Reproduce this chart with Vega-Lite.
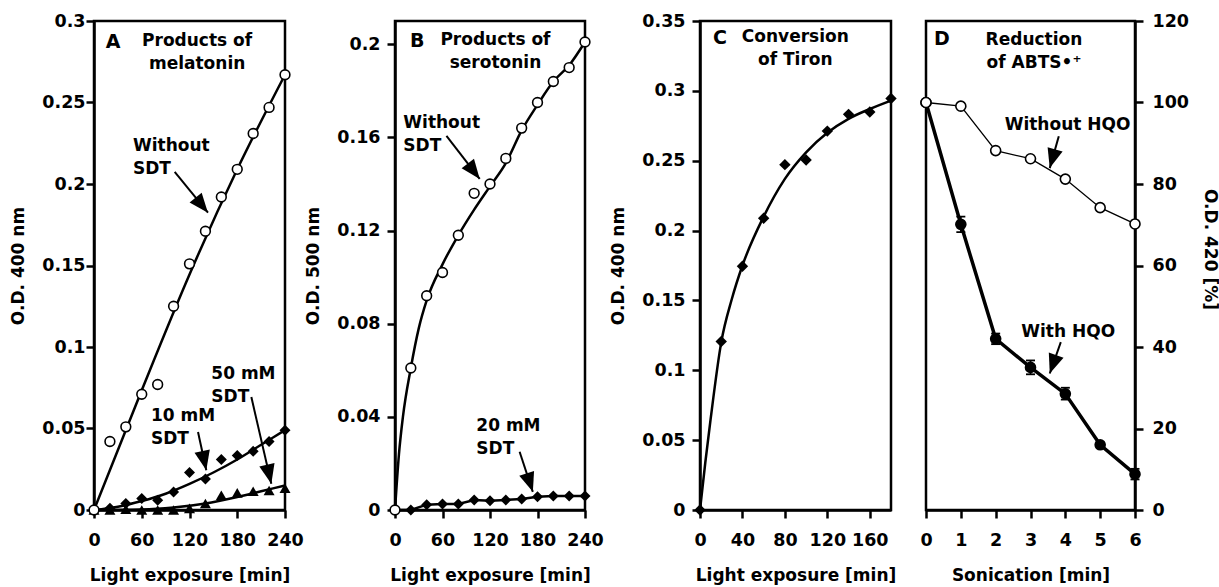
{
  "$schema": "https://vega.github.io/schema/vega-lite/v6.json",
  "background": "white",
  "padding": {"left": 8, "top": 10, "right": 0, "bottom": 0},
  "spacing": 0,
  "bounds": "flush",
  "config": {
    "font": "DejaVu Sans",
    "view": {"stroke": "black", "strokeWidth": 2.5},
    "axis": {"grid": false, "domainColor": "black", "domainWidth": 2.5, "tickColor": "black", "tickWidth": 2.5, "tickSize": 8,
      "labelFont": "DejaVu Sans", "labelFontSize": 17.5, "labelFontWeight": "bold", "labelColor": "black", "labelFlush": false, "labelOverlap": false,
      "titleFont": "DejaVu Sans", "titleFontSize": 17, "titleFontWeight": "bold", "titleColor": "black"},
    "axisX": {"labelPadding": 13, "titlePadding": 19},
    "axisY": {"labelPadding": 7, "titlePadding": 14},
    "text": {"font": "DejaVu Sans", "fontWeight": "bold", "fontSize": 17, "color": "black"}
  },
  "datasets": {
    "aPts": [
      {"series": "w", "t": 0, "v": 0}, {"series": "w", "t": 20, "v": 0.042}, {"series": "w", "t": 40, "v": 0.051}, {"series": "w", "t": 60, "v": 0.071},
      {"series": "w", "t": 80, "v": 0.077}, {"series": "w", "t": 100, "v": 0.125}, {"series": "w", "t": 120, "v": 0.151}, {"series": "w", "t": 140, "v": 0.171},
      {"series": "w", "t": 160, "v": 0.192}, {"series": "w", "t": 180, "v": 0.209}, {"series": "w", "t": 200, "v": 0.231}, {"series": "w", "t": 220, "v": 0.247},
      {"series": "w", "t": 240, "v": 0.267},
      {"series": "s10", "t": 0, "v": 0}, {"series": "s10", "t": 20, "v": 0.001}, {"series": "s10", "t": 40, "v": 0.004}, {"series": "s10", "t": 60, "v": 0.007},
      {"series": "s10", "t": 80, "v": 0.006}, {"series": "s10", "t": 100, "v": 0.011}, {"series": "s10", "t": 120, "v": 0.023}, {"series": "s10", "t": 140, "v": 0.019},
      {"series": "s10", "t": 160, "v": 0.031}, {"series": "s10", "t": 180, "v": 0.0335}, {"series": "s10", "t": 200, "v": 0.036}, {"series": "s10", "t": 220, "v": 0.042},
      {"series": "s10", "t": 240, "v": 0.049},
      {"series": "s50", "t": 0, "v": 0}, {"series": "s50", "t": 20, "v": 0}, {"series": "s50", "t": 40, "v": 0.0005}, {"series": "s50", "t": 60, "v": 0},
      {"series": "s50", "t": 80, "v": 0}, {"series": "s50", "t": 100, "v": 0}, {"series": "s50", "t": 120, "v": 0.001}, {"series": "s50", "t": 140, "v": 0.004},
      {"series": "s50", "t": 160, "v": 0.009}, {"series": "s50", "t": 180, "v": 0.0105}, {"series": "s50", "t": 200, "v": 0.0115}, {"series": "s50", "t": 220, "v": 0.012},
      {"series": "s50", "t": 240, "v": 0.0133}
    ],
    "aFit": [
      {"series": "w", "t": 0, "v": 0}, {"series": "w", "t": 60, "v": 0.0735}, {"series": "w", "t": 120, "v": 0.1445}, {"series": "w", "t": 180, "v": 0.209}, {"series": "w", "t": 240, "v": 0.267},
      {"series": "s10", "t": 0, "v": 0}, {"series": "s10", "t": 30, "v": 0.002}, {"series": "s10", "t": 60, "v": 0.0055}, {"series": "s10", "t": 90, "v": 0.01},
      {"series": "s10", "t": 120, "v": 0.016}, {"series": "s10", "t": 150, "v": 0.023}, {"series": "s10", "t": 180, "v": 0.031}, {"series": "s10", "t": 210, "v": 0.04}, {"series": "s10", "t": 240, "v": 0.049},
      {"series": "s50", "t": 0, "v": 0}, {"series": "s50", "t": 60, "v": 0.0003}, {"series": "s50", "t": 100, "v": 0.0015}, {"series": "s50", "t": 140, "v": 0.004},
      {"series": "s50", "t": 180, "v": 0.008}, {"series": "s50", "t": 210, "v": 0.0115}, {"series": "s50", "t": 240, "v": 0.015}
    ],
    "bPts": [
      {"series": "w", "t": 0, "v": 0}, {"series": "w", "t": 20, "v": 0.061}, {"series": "w", "t": 40, "v": 0.092}, {"series": "w", "t": 60, "v": 0.102},
      {"series": "w", "t": 80, "v": 0.118}, {"series": "w", "t": 100, "v": 0.136}, {"series": "w", "t": 120, "v": 0.14}, {"series": "w", "t": 140, "v": 0.151},
      {"series": "w", "t": 160, "v": 0.164}, {"series": "w", "t": 180, "v": 0.175}, {"series": "w", "t": 200, "v": 0.184}, {"series": "w", "t": 220, "v": 0.19},
      {"series": "w", "t": 240, "v": 0.201},
      {"series": "s20", "t": 0, "v": 0}, {"series": "s20", "t": 20, "v": 0}, {"series": "s20", "t": 40, "v": 0.0023}, {"series": "s20", "t": 60, "v": 0.0026},
      {"series": "s20", "t": 80, "v": 0.0026}, {"series": "s20", "t": 100, "v": 0.0043}, {"series": "s20", "t": 120, "v": 0.004}, {"series": "s20", "t": 140, "v": 0.0043},
      {"series": "s20", "t": 160, "v": 0.0047}, {"series": "s20", "t": 180, "v": 0.0057}, {"series": "s20", "t": 200, "v": 0.006}, {"series": "s20", "t": 220, "v": 0.006},
      {"series": "s20", "t": 240, "v": 0.006}
    ],
    "bFit": [
      {"t": 0, "v": 0}, {"t": 5, "v": 0.024}, {"t": 10, "v": 0.04}, {"t": 20, "v": 0.061}, {"t": 30, "v": 0.078}, {"t": 40, "v": 0.09},
      {"t": 60, "v": 0.1055}, {"t": 80, "v": 0.118}, {"t": 100, "v": 0.129}, {"t": 120, "v": 0.139}, {"t": 140, "v": 0.149}, {"t": 160, "v": 0.163},
      {"t": 180, "v": 0.174}, {"t": 200, "v": 0.184}, {"t": 220, "v": 0.191}, {"t": 240, "v": 0.201}
    ],
    "cPts": [
      {"t": 0, "v": 0}, {"t": 20, "v": 0.1206}, {"t": 40, "v": 0.1745}, {"t": 60, "v": 0.2088}, {"t": 80, "v": 0.2472},
      {"t": 100, "v": 0.2505}, {"t": 120, "v": 0.2712}, {"t": 140, "v": 0.2832}, {"t": 160, "v": 0.2849}, {"t": 180, "v": 0.2945}
    ],
    "cFit": [
      {"t": 0, "v": 0}, {"t": 5, "v": 0.034}, {"t": 10, "v": 0.065}, {"t": 20, "v": 0.12}, {"t": 30, "v": 0.151}, {"t": 40, "v": 0.175},
      {"t": 60, "v": 0.21}, {"t": 80, "v": 0.237}, {"t": 100, "v": 0.256}, {"t": 120, "v": 0.27}, {"t": 140, "v": 0.28}, {"t": 160, "v": 0.287}, {"t": 180, "v": 0.293}
    ],
    "dPts": [
      {"series": "without", "t": 0, "v": 100}, {"series": "without", "t": 1, "v": 99.1}, {"series": "without", "t": 2, "v": 88.2}, {"series": "without", "t": 3, "v": 86.2},
      {"series": "without", "t": 4, "v": 81.2}, {"series": "without", "t": 5, "v": 74.2}, {"series": "without", "t": 6, "v": 70.2},
      {"series": "with", "t": 0, "v": 100, "lo": 100, "hi": 100}, {"series": "with", "t": 1, "v": 70.1, "lo": 68.2, "hi": 72.0},
      {"series": "with", "t": 2, "v": 42.0, "lo": 40.7, "hi": 43.3}, {"series": "with", "t": 3, "v": 35.0, "lo": 33.3, "hi": 36.7},
      {"series": "with", "t": 4, "v": 28.5, "lo": 27.1, "hi": 30.0}, {"series": "with", "t": 5, "v": 16.0, "lo": 15.4, "hi": 16.6},
      {"series": "with", "t": 6, "v": 8.8, "lo": 7.5, "hi": 10.1}
    ],
    "notes": [
      {"panel": "A", "kind": "letter", "t": 23.9, "v": 0.2928, "text": "A"},
      {"panel": "A", "kind": "head", "t": 129.6, "v": 0.2928, "text": "Products of\nmelatonin"},
      {"panel": "A", "kind": "left", "t": 49, "v": 0.2284, "text": "Without\nSDT"},
      {"panel": "A", "kind": "left", "t": 71.6, "v": 0.0628, "text": "10 mM\nSDT"},
      {"panel": "A", "kind": "left", "t": 147.4, "v": 0.0883, "text": "50 mM\nSDT"},
      {"panel": "B", "kind": "letter", "t": 28, "v": 0.2054, "text": "B"},
      {"panel": "B", "kind": "head", "t": 126.9, "v": 0.2054, "text": "Products of\nserotonin"},
      {"panel": "B", "kind": "left", "t": 10.5, "v": 0.1697, "text": "Without\nSDT"},
      {"panel": "B", "kind": "left", "t": 102.7, "v": 0.0397, "text": "20 mM\nSDT"},
      {"panel": "C", "kind": "letter", "t": 18.8, "v": 0.3443, "text": "C"},
      {"panel": "C", "kind": "head", "t": 89.8, "v": 0.3443, "text": "Conversion\nof Tiron"},
      {"panel": "D", "kind": "letter", "t": 0.457, "v": 117.8, "text": "D"},
      {"panel": "D", "kind": "head", "t": 3.1, "v": 117.4, "text": "Reduction\nof ABTS•⁺"},
      {"panel": "D", "kind": "left", "t": 2.258, "v": 96.5, "text": "Without HQO"},
      {"panel": "D", "kind": "left", "t": 2.735, "v": 45.6, "text": "With HQO"}
    ],
    "arrows": [
      {"panel": "A", "id": "a1", "t": 143.2, "v": 0.1824, "t0": 101.4, "v0": 0.2074},
      {"panel": "A", "id": "a2", "t": 141.1, "v": 0.0244, "t0": 130.7, "v0": 0.0479},
      {"panel": "A", "id": "a3", "t": 222.8, "v": 0.0161, "t0": 197.7, "v0": 0.0693},
      {"panel": "B", "id": "b1", "t": 107, "v": 0.1422, "t0": 65, "v0": 0.1607},
      {"panel": "B", "id": "b2", "t": 174.1, "v": 0.0078, "t0": 157.4, "v0": 0.025},
      {"panel": "D", "id": "d1", "t": 3.553, "v": 83.9, "t0": 3.812, "v0": 91.7},
      {"panel": "D", "id": "d2", "t": 3.553, "v": 33.5, "t0": 3.87, "v0": 41.2}
    ]
  },
  "hconcat": [
    {
      "width": 191, "height": 489,
      "encoding": {
        "x": {"field": "t", "type": "quantitative", "scale": {"domain": [0, 240], "nice": false, "zero": false}, "axis": {"values": [0, 60, 120, 180, 240], "title": "Light exposure [min]"}},
        "y": {"field": "v", "type": "quantitative", "scale": {"domain": [0, 0.3], "nice": false}, "axis": {"values": [0, 0.05, 0.1, 0.15, 0.2, 0.25, 0.3], "format": "~g", "title": "O.D. 400 nm", "labelPadding": 1}}
      },
      "layer": [
        {"data": {"name": "aFit"}, "mark": {"type": "line", "interpolate": "monotone", "color": "black", "strokeWidth": 2.5}, "encoding": {"detail": {"field": "series", "type": "nominal"}}},
        {"data": {"name": "arrows"}, "transform": [{"filter": "datum.panel == 'A'"}], "mark": {"type": "rule", "color": "black", "strokeWidth": 2}, "encoding": {"x2": {"field": "t0"}, "y2": {"field": "v0"}}},
        {"data": {"name": "arrows"}, "transform": [{"filter": "datum.id == 'a1'"}], "mark": {"type": "point", "shape": "M0,0L-0.8,2L0.8,2Z", "filled": true, "color": "black", "opacity": 1, "size": 380, "angle": 140.7}},
        {"data": {"name": "arrows"}, "transform": [{"filter": "datum.id == 'a2'"}], "mark": {"type": "point", "shape": "M0,0L-0.8,2L0.8,2Z", "filled": true, "color": "black", "opacity": 1, "size": 380, "angle": 167.8}},
        {"data": {"name": "arrows"}, "transform": [{"filter": "datum.id == 'a3'"}], "mark": {"type": "point", "shape": "M0,0L-0.8,2L0.8,2Z", "filled": true, "color": "black", "opacity": 1, "size": 380, "angle": 167}},
        {"data": {"name": "aPts"}, "transform": [{"filter": "datum.series == 's50'"}], "mark": {"type": "point", "shape": "triangle-up", "filled": true, "color": "black", "opacity": 1, "size": 121}},
        {"data": {"name": "aPts"}, "transform": [{"filter": "datum.series == 's10'"}], "mark": {"type": "point", "shape": "diamond", "filled": true, "color": "black", "opacity": 1, "size": 121}},
        {"data": {"name": "aPts"}, "transform": [{"filter": "datum.series == 'w'"}], "mark": {"type": "point", "shape": "circle", "filled": true, "fill": "white", "stroke": "black", "strokeWidth": 1.6, "opacity": 1, "size": 95}},
        {"data": {"name": "notes"}, "transform": [{"filter": "datum.panel == 'A' && datum.kind == 'letter'"}], "mark": {"type": "text", "align": "center", "baseline": "top", "fontSize": 19}, "encoding": {"text": {"field": "text"}}},
        {"data": {"name": "notes"}, "transform": [{"filter": "datum.panel == 'A' && datum.kind == 'head'"}], "mark": {"type": "text", "align": "center", "baseline": "top", "lineBreak": "\n", "lineHeight": 23}, "encoding": {"text": {"field": "text"}}},
        {"data": {"name": "notes"}, "transform": [{"filter": "datum.panel == 'A' && datum.kind == 'left'"}], "mark": {"type": "text", "align": "left", "baseline": "top", "lineBreak": "\n", "lineHeight": 23}, "encoding": {"text": {"field": "text"}}}
      ]
    },
    {"width": 110, "height": 489, "data": {"values": []}, "mark": "point", "view": {"stroke": null}},
    {
      "width": 190, "height": 489,
      "encoding": {
        "x": {"field": "t", "type": "quantitative", "scale": {"domain": [0, 240], "nice": false, "zero": false}, "axis": {"values": [0, 60, 120, 180, 240], "title": "Light exposure [min]"}},
        "y": {"field": "v", "type": "quantitative", "scale": {"domain": [0, 0.21], "nice": false}, "axis": {"values": [0, 0.04, 0.08, 0.12, 0.16, 0.2], "format": "~g", "title": "O.D. 500 nm"}}
      },
      "layer": [
        {"data": {"name": "bFit"}, "mark": {"type": "line", "interpolate": "monotone", "color": "black", "strokeWidth": 2.5}},
        {"data": {"name": "bPts"}, "transform": [{"filter": "datum.series == 's20'"}], "mark": {"type": "line", "color": "black", "strokeWidth": 2.5}},
        {"data": {"name": "arrows"}, "transform": [{"filter": "datum.panel == 'B'"}], "mark": {"type": "rule", "color": "black", "strokeWidth": 2}, "encoding": {"x2": {"field": "t0"}, "y2": {"field": "v0"}}},
        {"data": {"name": "arrows"}, "transform": [{"filter": "datum.id == 'b1'"}], "mark": {"type": "point", "shape": "M0,0L-0.8,2L0.8,2Z", "filled": true, "color": "black", "opacity": 1, "size": 380, "angle": 142.4}},
        {"data": {"name": "arrows"}, "transform": [{"filter": "datum.id == 'b2'"}], "mark": {"type": "point", "shape": "M0,0L-0.8,2L0.8,2Z", "filled": true, "color": "black", "opacity": 1, "size": 380, "angle": 161.6}},
        {"data": {"name": "bPts"}, "transform": [{"filter": "datum.series == 's20'"}], "mark": {"type": "point", "shape": "diamond", "filled": true, "color": "black", "opacity": 1, "size": 121}},
        {"data": {"name": "bPts"}, "transform": [{"filter": "datum.series == 'w'"}], "mark": {"type": "point", "shape": "circle", "filled": true, "fill": "white", "stroke": "black", "strokeWidth": 1.6, "opacity": 1, "size": 95}},
        {"data": {"name": "notes"}, "transform": [{"filter": "datum.panel == 'B' && datum.kind == 'letter'"}], "mark": {"type": "text", "align": "center", "baseline": "top", "fontSize": 19}, "encoding": {"text": {"field": "text"}}},
        {"data": {"name": "notes"}, "transform": [{"filter": "datum.panel == 'B' && datum.kind == 'head'"}], "mark": {"type": "text", "align": "center", "baseline": "top", "lineBreak": "\n", "lineHeight": 23}, "encoding": {"text": {"field": "text"}}},
        {"data": {"name": "notes"}, "transform": [{"filter": "datum.panel == 'B' && datum.kind == 'left'"}], "mark": {"type": "text", "align": "left", "baseline": "top", "lineBreak": "\n", "lineHeight": 23}, "encoding": {"text": {"field": "text"}}}
      ]
    },
    {"width": 115, "height": 489, "data": {"values": []}, "mark": "point", "view": {"stroke": null}},
    {
      "width": 191, "height": 489,
      "encoding": {
        "x": {"field": "t", "type": "quantitative", "scale": {"domain": [0, 180], "nice": false, "zero": false}, "axis": {"values": [0, 40, 80, 120, 160], "title": "Light exposure [min]"}},
        "y": {"field": "v", "type": "quantitative", "scale": {"domain": [0, 0.35], "nice": false}, "axis": {"values": [0, 0.05, 0.1, 0.15, 0.2, 0.25, 0.3, 0.35], "format": "~g", "title": "O.D. 400 nm"}}
      },
      "layer": [
        {"data": {"name": "cFit"}, "mark": {"type": "line", "interpolate": "monotone", "color": "black", "strokeWidth": 2.5}},
        {"data": {"name": "cPts"}, "mark": {"type": "point", "shape": "diamond", "filled": true, "color": "black", "opacity": 1, "size": 130}},
        {"data": {"name": "notes"}, "transform": [{"filter": "datum.panel == 'C' && datum.kind == 'letter'"}], "mark": {"type": "text", "align": "center", "baseline": "top", "fontSize": 19}, "encoding": {"text": {"field": "text"}}},
        {"data": {"name": "notes"}, "transform": [{"filter": "datum.panel == 'C' && datum.kind == 'head'"}], "mark": {"type": "text", "align": "center", "baseline": "top", "lineBreak": "\n", "lineHeight": 23}, "encoding": {"text": {"field": "text"}}}
      ]
    },
    {"width": 35, "height": 489, "data": {"values": []}, "mark": "point", "view": {"stroke": null}},
    {
      "width": 209, "height": 489,
      "encoding": {
        "x": {"field": "t", "type": "quantitative", "scale": {"domain": [0, 6], "nice": false, "zero": false}, "axis": {"values": [0, 1, 2, 3, 4, 5, 6], "title": "Sonication [min]"}},
        "y": {"field": "v", "type": "quantitative", "scale": {"domain": [0, 120], "nice": false}, "title": "O.D. 420 [%]", "axis": {"orient": "right", "values": [0, 20, 40, 60, 80, 100, 120], "labelPadding": 9, "titlePadding": 12, "titleY": 228}}
      },
      "layer": [
        {"data": {"name": "dPts"}, "transform": [{"filter": "datum.series == 'without'"}], "mark": {"type": "line", "color": "black", "strokeWidth": 1.3}},
        {"data": {"name": "dPts"}, "transform": [{"filter": "datum.series == 'with'"}], "mark": {"type": "line", "color": "black", "strokeWidth": 3.5}},
        {"data": {"name": "dPts"}, "transform": [{"filter": "datum.series == 'with'"}], "mark": {"type": "rule", "color": "black", "strokeWidth": 1.8}, "encoding": {"y": {"field": "lo", "type": "quantitative", "title": "O.D. 420 [%]"}, "y2": {"field": "hi"}}},
        {"data": {"name": "dPts"}, "transform": [{"filter": "datum.series == 'with'"}], "mark": {"type": "tick", "orient": "horizontal", "color": "black", "thickness": 1.8, "size": 9, "opacity": 1}, "encoding": {"y": {"field": "lo", "type": "quantitative", "title": "O.D. 420 [%]"}}},
        {"data": {"name": "dPts"}, "transform": [{"filter": "datum.series == 'with'"}], "mark": {"type": "tick", "orient": "horizontal", "color": "black", "thickness": 1.8, "size": 9, "opacity": 1}, "encoding": {"y": {"field": "hi", "type": "quantitative", "title": "O.D. 420 [%]"}}},
        {"data": {"name": "dPts"}, "transform": [{"filter": "datum.series == 'with'"}], "mark": {"type": "point", "shape": "circle", "filled": true, "color": "black", "opacity": 1, "size": 135}},
        {"data": {"name": "dPts"}, "transform": [{"filter": "datum.series == 'without'"}], "mark": {"type": "point", "shape": "circle", "filled": true, "fill": "white", "stroke": "black", "strokeWidth": 1.6, "opacity": 1, "size": 100}},
        {"data": {"name": "arrows"}, "transform": [{"filter": "datum.panel == 'D'"}], "mark": {"type": "rule", "color": "black", "strokeWidth": 2}, "encoding": {"x2": {"field": "t0"}, "y2": {"field": "v0"}}},
        {"data": {"name": "arrows"}, "transform": [{"filter": "datum.id == 'd1'"}], "mark": {"type": "point", "shape": "M0,0L-0.8,2L0.8,2Z", "filled": true, "color": "black", "opacity": 1, "size": 380, "angle": 195.9}},
        {"data": {"name": "arrows"}, "transform": [{"filter": "datum.id == 'd2'"}], "mark": {"type": "point", "shape": "M0,0L-0.8,2L0.8,2Z", "filled": true, "color": "black", "opacity": 1, "size": 380, "angle": 199.2}},
        {"data": {"name": "notes"}, "transform": [{"filter": "datum.panel == 'D' && datum.kind == 'letter'"}], "mark": {"type": "text", "align": "center", "baseline": "top", "fontSize": 19}, "encoding": {"text": {"field": "text"}}},
        {"data": {"name": "notes"}, "transform": [{"filter": "datum.panel == 'D' && datum.kind == 'head'"}], "mark": {"type": "text", "align": "center", "baseline": "top", "lineBreak": "\n", "lineHeight": 23}, "encoding": {"text": {"field": "text"}}},
        {"data": {"name": "notes"}, "transform": [{"filter": "datum.panel == 'D' && datum.kind == 'left'"}], "mark": {"type": "text", "align": "left", "baseline": "top", "lineBreak": "\n", "lineHeight": 23}, "encoding": {"text": {"field": "text"}}}
      ]
    }
  ]
}
